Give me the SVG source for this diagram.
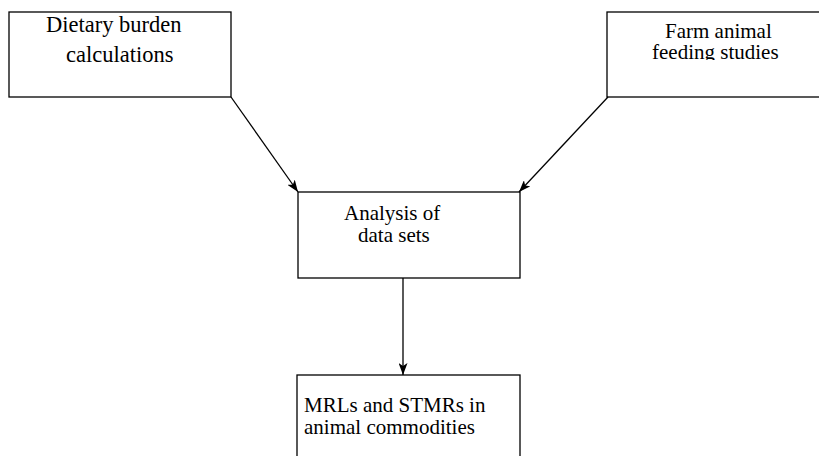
<svg xmlns="http://www.w3.org/2000/svg" width="819" height="456" viewBox="0 0 819 456">
  <style>
    .box { fill: #ffffff; stroke: #000000; stroke-width: 1.3; }
    .lbl { font-family: "Liberation Serif", "Times New Roman", serif; font-size: 21px; fill: #000000; }
    .big { font-size: 22.5px; }
    .conn { stroke: #000000; stroke-width: 1.3; fill: none; marker-end: url(#arrow); }
  </style>
  <defs>
    <marker id="arrow" markerUnits="userSpaceOnUse" markerWidth="13" markerHeight="9" refX="12" refY="4.5" orient="auto">
      <path d="M0,0 L12,4.5 L0,9 L3,4.5 z" fill="#000000"/>
    </marker>
    <clipPath id="clipFarm">
      <rect x="607" y="12" width="212" height="48"/>
    </clipPath>
  </defs>
  <rect width="819" height="456" fill="#ffffff"/>

  <g id="node-dietary">
    <rect class="box" x="9" y="12" width="222" height="85"/>
    <text class="lbl big" x="46" y="32">Dietary burden</text>
    <text class="lbl big" x="66" y="62">calculations</text>
  </g>

  <g id="node-farm">
    <rect class="box" x="607" y="12" width="230" height="85"/>
    <g clip-path="url(#clipFarm)">
      <text class="lbl" x="665" y="38">Farm animal</text>
      <text class="lbl" x="652" y="59">feeding studies</text>
    </g>
  </g>

  <g id="node-analysis">
    <rect class="box" x="298" y="192" width="222" height="86"/>
    <text class="lbl" x="344" y="220">Analysis of</text>
    <text class="lbl" x="358" y="242">data sets</text>
  </g>

  <g id="node-mrls">
    <rect class="box" x="297" y="375" width="223" height="100"/>
    <text class="lbl" x="304" y="412">MRLs and STMRs in</text>
    <text class="lbl" x="304" y="434">animal commodities</text>
  </g>

  <g id="connectors">
    <line class="conn" x1="231" y1="97" x2="298" y2="192"/>
    <line class="conn" x1="608" y1="97" x2="519" y2="192"/>
    <line class="conn" x1="403" y1="278" x2="403" y2="375"/>
  </g>
</svg>
